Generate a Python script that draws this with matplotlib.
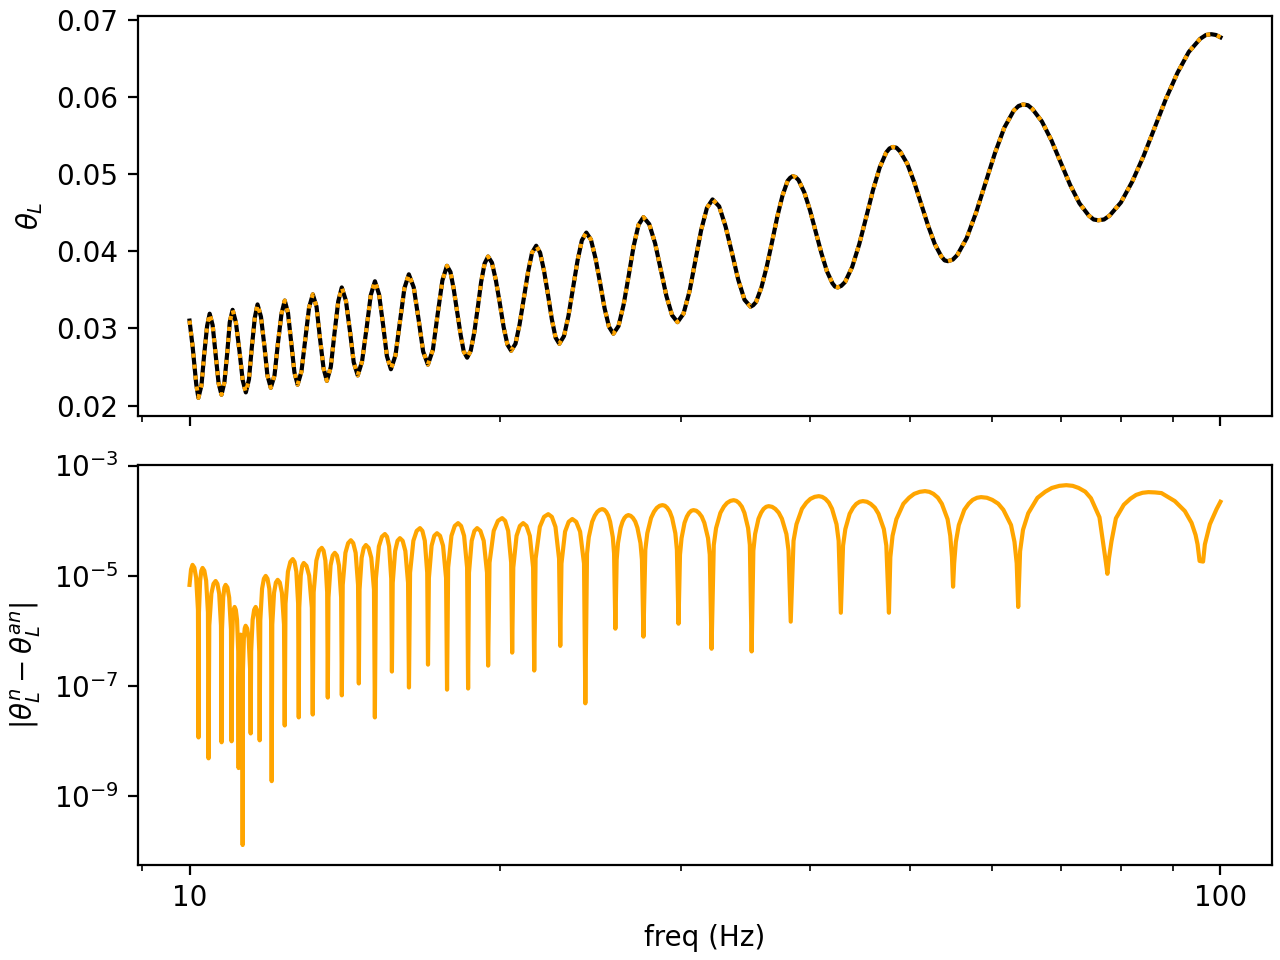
import numpy as np
import matplotlib
matplotlib.use("Agg")
import matplotlib.pyplot as plt
from matplotlib.ticker import ScalarFormatter, NullFormatter

# theta_L vs frequency (numerical and analytic curves overlap)
freq_top = [
    10.00, 10.07, 10.15, 10.20, 10.27, 10.33, 10.40, 10.46, 10.53, 10.60, 10.67, 10.74,
    10.81, 10.88, 10.94, 11.01, 11.09, 11.18, 11.26, 11.34, 11.42, 11.49, 11.57, 11.64,
    11.73, 11.82, 11.90, 11.99, 12.09, 12.18, 12.28, 12.37, 12.46, 12.55, 12.64, 12.73,
    12.84, 12.95, 13.06, 13.17, 13.28, 13.38, 13.49, 13.59, 13.71, 13.82, 13.94, 14.05,
    14.18, 14.31, 14.43, 14.56, 14.70, 14.85, 14.99, 15.13, 15.27, 15.41, 15.54, 15.68,
    15.84, 16.00, 16.16, 16.32, 16.50, 16.68, 16.85, 17.03, 17.22, 17.40, 17.59, 17.77,
    17.91, 18.04, 18.18, 18.32, 18.45, 18.59, 18.74, 18.89, 19.04, 19.18, 19.33, 19.48,
    19.65, 19.82, 20.00, 20.17, 20.34, 20.51, 20.71, 20.90, 21.10, 21.30, 21.49, 21.69,
    21.88, 22.07, 22.27, 22.46, 22.65, 22.84, 23.08, 23.31, 23.55, 23.79, 24.02, 24.26,
    24.51, 24.76, 25.02, 25.27, 25.52, 25.77, 26.07, 26.37, 26.67, 26.96, 27.26, 27.56,
    27.92, 28.29, 28.65, 29.01, 29.38, 29.74, 30.14, 30.55, 30.95, 31.35, 31.76, 32.16,
    32.64, 33.11, 33.59, 34.06, 34.54, 35.01, 35.22, 35.44, 35.87, 36.30, 36.74, 37.17,
    37.60, 38.03, 38.25, 38.46, 38.71, 38.97, 39.48, 39.99, 40.50, 41.01, 41.52, 42.03,
    42.28, 42.54, 42.87, 43.24, 43.93, 44.63, 45.33, 46.02, 46.72, 47.41, 47.75, 48.11,
    48.49, 48.90, 49.69, 50.47, 51.26, 52.05, 52.84, 53.62, 54.01, 54.41, 55.00, 55.56,
    56.74, 57.94, 59.17, 60.43, 61.71, 63.02, 63.70, 64.35, 65.05, 65.72, 67.11, 68.53,
    69.98, 71.47, 72.98, 74.53, 75.33, 76.11, 77.10, 78.06, 80.06, 82.11, 84.21, 86.37,
    88.58, 90.85, 93.17, 95.56, 96.81, 98.00, 99.00, 100.0,
]
theta_num = [
    .0310, .0276, .0228, .0210, .0226, .02645, .0303, .0319, .0304, .02665, .0229, .0214,
    .0230, .0269, .0308, .0324, .0308, .02705, .0233, .0217, .0234, .0274, .0314, .0331,
    .0315, .0277, .0239, .0223, .0239, .02795, .0319, .0336, .0320, .02815, .0243, .0227,
    .0244, .02855, .0327, .0344, .0328, .0288, .0248, .0232, .0250, .02925, .0335, .0353,
    .0336, .0296, .0256, .0239, .0257, .0300, .0343, .0361, .0344, .0304, .0264, .0247,
    .0265, .03085, .0352, .0370, .0353, .03115, .0270, .0253, .0272, .0317, .0362, .0381,
    .0373, .0351, .03215, .0292, .0270, .0262, .0271, .0295, .03275, .0360, .0384, .0393,
    .0385, .03625, .0332, .03015, .0279, .0271, .0280, .0305, .0339, .0373, .0398, .0407,
    .0398, .0375, .03435, .0312, .0288, .0280, .0290, .0316, .0352, .0388, .0414, .0424,
    .0415, .0391, .03585, .0326, .0302, .0293, .0303, .0331, .03685, .0406, .0434, .0444,
    .0435, .0410, .0376, .0342, .0317, .0308, .0319, .0348, .03875, .0427, .0456, .0467,
    .0458, .0432, .03975, .0363, .0337, .0328, .0330, .0334, .0353, .0380, .04125, .0445,
    .0472, .0491, .0495, .0497, .0496, .0492, .0476, .04525, .0425, .03975, .0374, .03585,
    .0354, .0353, .0355, .0360, .03795, .0409, .0444, .0479, .05085, .0528, .0533, .0535,
    .0534, .0529, .0513, .0489, .0461, .0433, .0409, .0393, .0388, .0387, .0389, .0395,
    .0417, .0450, .04885, .0527, .0560, .0582, .0588, .0590, .0589, .0584, .0568, .0544,
    .0515, .0486, .0462, .0446, .0441, .0440, .0441, .0446, .0463, .0490, .0523, .05605,
    .0598, .0631, .0658, .0675, .0680, .0681, .0680, .0677,
]
theta_an = list(theta_num)

# |theta_num - theta_an| vs frequency
freq_bot = [
    10.000, 10.034, 10.067, 10.108, 10.149, 10.190, 10.203,
    10.212, 10.240, 10.267, 10.295, 10.336, 10.378, 10.420, 10.434,
    10.451, 10.500, 10.550, 10.600, 10.642, 10.685, 10.728, 10.742,
    10.752, 10.781, 10.810, 10.839, 10.883, 10.926, 10.970, 10.985,
    10.992, 11.015, 11.037, 11.059, 11.089, 11.119, 11.149, 11.159,
    11.164, 11.179, 11.194, 11.209, 11.224, 11.239, 11.254, 11.260,
    11.267, 11.290, 11.312, 11.335, 11.373, 11.412, 11.450, 11.463,
    11.475, 11.514, 11.553, 11.592, 11.623, 11.654, 11.685, 11.696,
    11.712, 11.759, 11.807, 11.854, 11.902, 11.950, 11.998, 12.014,
    12.030, 12.078, 12.127, 12.176, 12.234, 12.291, 12.349, 12.369,
    12.391, 12.458, 12.525, 12.592, 12.643, 12.694, 12.745, 12.763,
    12.777, 12.820, 12.863, 12.906, 12.984, 13.063, 13.142, 13.168,
    13.195, 13.275, 13.355, 13.436, 13.490, 13.545, 13.599, 13.618,
    13.639, 13.703, 13.768, 13.833, 13.898, 13.963, 14.030, 14.052,
    14.080, 14.165, 14.251, 14.337, 14.414, 14.492, 14.570, 14.596,
    14.619, 14.688, 14.757, 14.827, 14.917, 15.007, 15.098, 15.128,
    15.162, 15.264, 15.368, 15.471, 15.544, 15.617, 15.691, 15.715,
    15.743, 15.828, 15.913, 15.999, 16.096, 16.194, 16.292, 16.325,
    16.365, 16.486, 16.608, 16.732, 16.822, 16.913, 17.004, 17.034,
    17.068, 17.171, 17.275, 17.380, 17.498, 17.616, 17.735, 17.774,
    17.818, 17.950, 18.083, 18.218, 18.340, 18.464, 18.588, 18.630,
    18.667, 18.780, 18.894, 19.009, 19.149, 19.291, 19.434, 19.482,
    19.543, 19.727, 19.914, 20.102, 20.237, 20.374, 20.511, 20.557,
    20.608, 20.760, 20.914, 21.069, 21.225, 21.383, 21.541, 21.595,
    21.662, 21.867, 22.073, 22.282, 22.462, 22.644, 22.827, 22.888,
    22.950, 23.135, 23.322, 23.511, 23.717, 23.925, 24.135, 24.206,
    24.298, 24.394, 24.577, 24.722, 24.859, 25.003, 25.144,
    25.255, 25.365, 25.478, 25.585, 25.738, 25.811, 25.886,
    25.961, 26.039, 26.190, 26.307, 26.419, 26.536, 26.651,
    26.787, 26.920, 27.061, 27.193, 27.379, 27.468, 27.561,
    27.678, 27.800, 28.034, 28.219, 28.394, 28.579, 28.758,
    28.915, 29.068, 29.230, 29.382, 29.596, 29.699, 29.806,
    29.906, 30.010, 30.209, 30.366, 30.516, 30.671, 30.824,
    31.014, 31.198, 31.394, 31.578, 31.838, 31.962, 32.091,
    32.249, 32.415, 32.729, 32.982, 33.216, 33.468, 33.711,
    33.919, 34.121, 34.334, 34.536, 34.819, 34.956, 35.096,
    35.230, 35.368, 35.636, 35.845, 36.043, 36.253, 36.457,
    36.733, 37.000, 37.285, 37.551, 37.929, 38.110, 38.297,
    38.538, 38.792, 39.269, 39.659, 40.015, 40.402, 40.774,
    41.083, 41.381, 41.700, 41.997, 42.420, 42.622, 42.832,
    43.044, 43.264, 43.684, 44.021, 44.334, 44.670, 44.994,
    45.398, 45.786, 46.207, 46.592, 47.151, 47.413, 47.690,
    47.839, 48.076, 48.490, 49.252, 49.891, 50.456, 51.091, 51.691,
    52.192, 52.672, 53.195, 53.671, 54.365, 54.691, 54.899, 55.034,
    55.170, 55.380, 55.746, 56.431, 56.991, 57.502, 58.059, 58.593,
    59.352, 60.067, 60.870, 61.578, 62.640, 63.127, 63.438, 63.652,
    63.922, 64.339, 65.096, 66.445, 67.622, 68.622, 69.787, 70.870,
    71.892, 72.848, 73.935, 74.882, 76.320, 76.972, 77.404, 77.682,
    77.960, 78.397, 79.175, 80.585, 81.788, 82.834, 84.027, 85.147,
    86.400, 87.660, 90.309, 92.353, 93.748, 94.592, 95.016, 95.443,
    96.191, 96.580, 97.668, 99.143, 100.0,
]
dtheta = [
    6.8e-6, 1.3e-5, 1.57e-5, 1.40e-5, 9.2e-6, 2.4e-6, 1.15e-8,
    2.14e-6, 8.1e-6, 1.23e-5, 1.38e-5, 1.23e-5, 8.1e-6, 2.14e-6, 4.8e-9,
    1.24e-6, 4.7e-6, 7.1e-6, 8.0e-6, 7.1e-6, 4.7e-6, 1.24e-6, 9.4e-9,
    1.05e-6, 4.0e-6, 6.1e-6, 6.8e-6, 6.1e-6, 4.0e-6, 1.05e-6, 9.8e-9,
    4.2e-7, 1.59e-6, 2.4e-6, 2.7e-6, 2.4e-6, 1.59e-6, 4.2e-7, 3.2e-9,
    1.32e-7, 5.0e-7, 7.6e-7, 8.5e-7, 7.6e-7, 5.0e-7, 1.32e-7, 1.28e-10,
    1.9e-7, 7.2e-7, 1.10e-6, 1.23e-6, 1.10e-6, 7.2e-7, 1.9e-7, 1.36e-8,
    4.2e-7, 1.59e-6, 2.4e-6, 2.7e-6, 2.4e-6, 1.59e-6, 4.2e-7, 1.02e-8,
    1.53e-6, 5.8e-6, 8.8e-6, 9.9e-6, 8.8e-6, 5.8e-6, 1.53e-6, 1.85e-9,
    1.30e-6, 4.9e-6, 7.5e-6, 8.4e-6, 7.5e-6, 4.9e-6, 1.30e-6, 1.9e-8,
    3.1e-6, 1.18e-5, 1.78e-5, 2.0e-5, 1.78e-5, 1.18e-5, 3.1e-6, 2.66e-8,
    2.6e-6, 1.00e-5, 1.51e-5, 1.70e-5, 1.51e-5, 1.00e-5, 2.6e-6, 3.0e-8,
    5.0e-6, 1.88e-5, 2.85e-5, 3.2e-5, 2.85e-5, 1.88e-5, 5.0e-6, 6.1e-8,
    4.0e-6, 1.53e-5, 2.32e-5, 2.6e-5, 2.32e-5, 1.53e-5, 4.0e-6, 6.7e-8,
    6.8e-6, 2.6e-5, 3.9e-5, 4.4e-5, 3.9e-5, 2.6e-5, 6.8e-6, 1.10e-7,
    5.6e-6, 2.12e-5, 3.2e-5, 3.6e-5, 3.2e-5, 2.12e-5, 5.6e-6, 2.66e-8,
    8.8e-6, 3.4e-5, 5.1e-5, 5.7e-5, 5.1e-5, 3.4e-5, 8.8e-6, 1.81e-7,
    7.4e-6, 2.8e-5, 4.3e-5, 4.8e-5, 4.3e-5, 2.8e-5, 7.4e-6, 9.3e-8,
    1.13e-5, 4.3e-5, 6.5e-5, 7.3e-5, 6.5e-5, 4.3e-5, 1.13e-5, 2.42e-7,
    9.1e-6, 3.5e-5, 5.3e-5, 5.9e-5, 5.3e-5, 3.5e-5, 9.1e-6, 8.5e-8,
    1.40e-5, 5.3e-5, 8.0e-5, 9.0e-5, 8.0e-5, 5.3e-5, 1.40e-5, 8.9e-8,
    1.13e-5, 4.3e-5, 6.5e-5, 7.3e-5, 6.5e-5, 4.3e-5, 1.13e-5, 2.32e-7,
    1.72e-5, 6.5e-5, 9.9e-5, 1.11e-4, 9.9e-5, 6.5e-5, 1.72e-5, 4.0e-7,
    1.40e-5, 5.3e-5, 8.0e-5, 9.0e-5, 8.0e-5, 5.3e-5, 1.40e-5, 1.89e-7,
    2.03e-5, 7.7e-5, 1.17e-4, 1.31e-4, 1.17e-4, 7.7e-5, 2.03e-5, 5.3e-7,
    1.66e-5, 6.3e-5, 9.5e-5, 1.07e-4, 9.5e-5, 6.3e-5, 1.66e-5, 4.8e-8,
    2.51e-5, 5.0e-5, 9.5e-5, 1.23e-4, 1.44e-4, 1.57e-4, 1.62e-4,
    1.57e-4, 1.44e-4, 1.23e-4, 9.5e-5, 5.0e-5, 2.51e-5, 1.09e-6,
    1.95e-5, 3.9e-5, 7.4e-5, 9.6e-5, 1.12e-4, 1.22e-4, 1.26e-4,
    1.22e-4, 1.12e-4, 9.6e-5, 7.4e-5, 3.9e-5, 1.95e-5, 7.8e-7,
    2.96e-5, 5.9e-5, 1.12e-4, 1.45e-4, 1.70e-4, 1.86e-4, 1.91e-4,
    1.86e-4, 1.70e-4, 1.45e-4, 1.12e-4, 5.9e-5, 2.96e-5, 1.34e-6,
    2.40e-5, 4.8e-5, 9.1e-5, 1.18e-4, 1.38e-4, 1.51e-4, 1.55e-4,
    1.51e-4, 1.38e-4, 1.18e-4, 9.1e-5, 4.8e-5, 2.40e-5, 4.7e-7,
    3.6e-5, 7.3e-5, 1.38e-4, 1.79e-4, 2.09e-4, 2.28e-4, 2.35e-4,
    2.28e-4, 2.09e-4, 1.79e-4, 1.38e-4, 7.3e-5, 3.6e-5, 4.2e-7,
    2.84e-5, 5.7e-5, 1.08e-4, 1.39e-4, 1.63e-4, 1.78e-4, 1.83e-4,
    1.78e-4, 1.63e-4, 1.39e-4, 1.08e-4, 5.7e-5, 2.84e-5, 1.46e-6,
    4.3e-5, 8.6e-5, 1.64e-4, 2.12e-4, 2.48e-4, 2.70e-4, 2.78e-4,
    2.70e-4, 2.48e-4, 2.12e-4, 1.64e-4, 8.6e-5, 4.3e-5, 2.12e-6,
    3.5e-5, 7.0e-5, 1.33e-4, 1.72e-4, 2.01e-4, 2.20e-4, 2.26e-4,
    2.20e-4, 2.01e-4, 1.72e-4, 1.33e-4, 7.0e-5, 3.5e-5, 2.12e-6,
    2.16e-5, 5.3e-5, 1.06e-4, 2.02e-4, 2.61e-4, 3.06e-4, 3.33e-4, 3.43e-4,
    3.33e-4, 3.06e-4, 2.61e-4, 2.02e-4, 1.06e-4, 5.3e-5, 2.16e-5, 6.3e-6,
    1.68e-5, 4.1e-5, 8.3e-5, 1.57e-4, 2.03e-4, 2.38e-4, 2.60e-4, 2.67e-4,
    2.60e-4, 2.38e-4, 2.03e-4, 1.57e-4, 8.3e-5, 4.1e-5, 1.68e-5, 2.7e-6,
    2.77e-5, 6.8e-5, 1.36e-4, 2.59e-4, 3.35e-4, 3.92e-4, 4.28e-4, 4.4e-4,
    4.28e-4, 3.92e-4, 3.35e-4, 2.55e-4, 1.15e-4, 3.8e-5, 1.8e-5, 1.08e-5,
    2.07e-5, 4.2e-5, 1.1e-4, 1.94e-4, 2.50e-4, 2.93e-4, 3.20e-4, 3.29e-4,
    3.25e-4, 3.16e-4, 2.26e-4, 1.49e-4, 9.1e-5, 5.5e-5, 3.7e-5, 1.85e-5,
    1.8e-5, 3.7e-5, 8.6e-5, 1.62e-4, 2.2e-4,
]

fig, (ax1, ax2) = plt.subplots(2, 1, sharex=True, figsize=(6.4, 4.8), dpi=200)
fig.subplots_adjust(left=0.1078, right=0.99375, top=0.9833, bottom=0.099, hspace=0.1225)

ax1.plot(freq_top, theta_num, color="k")
ax1.plot(freq_top, theta_an, color="orange", ls=":")
ax1.set_ylabel(r"$\theta_L$")

ax2.plot(freq_bot, dtheta, color="orange")
ax2.set_xscale("log")
ax2.set_yscale("log")
ax2.set_ylim(10**-10.255, 10**-2.99)
ax2.set_ylabel(r"$|\theta_L^n - \theta_L^{an}|$")
ax2.set_xlabel("freq (Hz)")

ax2.xaxis.set_major_formatter(ScalarFormatter())
ax2.xaxis.set_minor_formatter(NullFormatter())

fig.savefig("out.png", dpi=200)
